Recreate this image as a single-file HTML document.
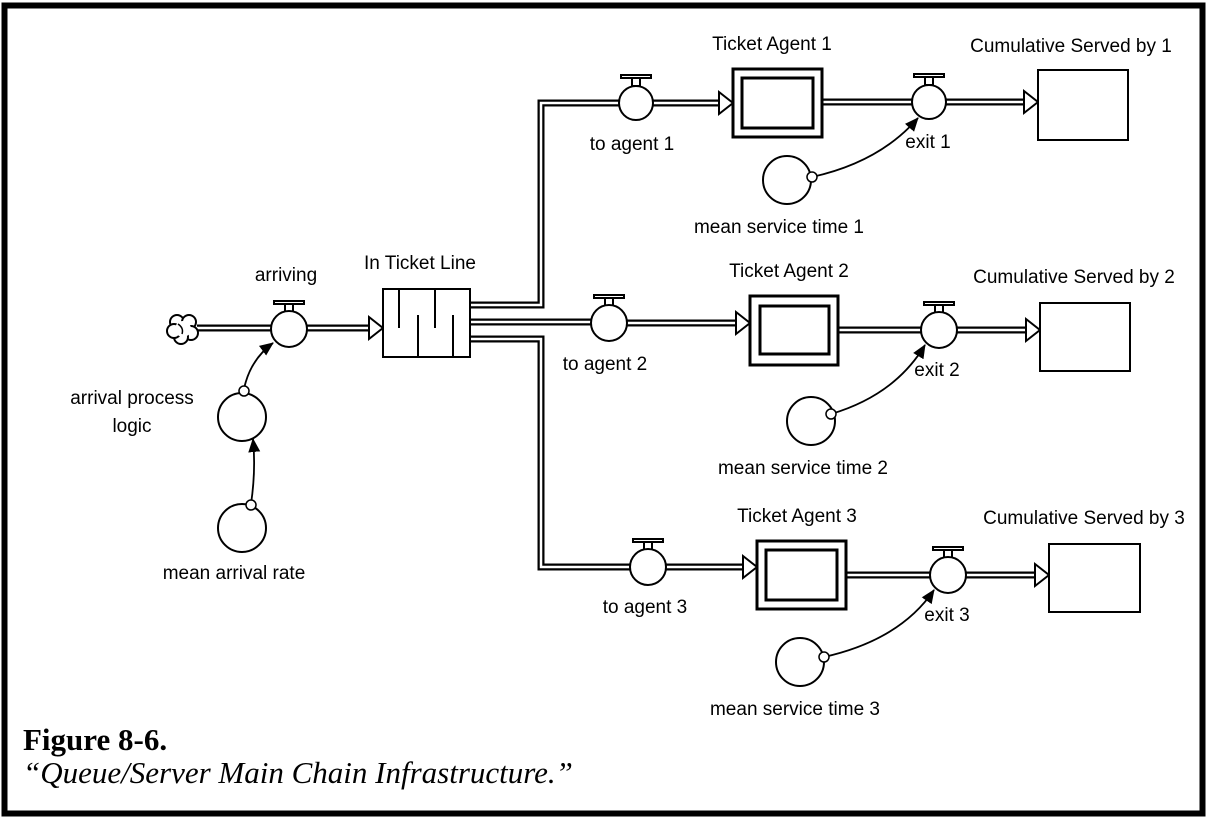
<!DOCTYPE html>
<html><head><meta charset="utf-8"><style>
html,body{margin:0;padding:0;background:#fff;}
svg{display:block;}
text{font-family:"Liberation Sans",sans-serif;font-size:19px;fill:#000;}
</style></head><body>
<svg width="1208" height="818" viewBox="0 0 1208 818" xmlns="http://www.w3.org/2000/svg">
<defs>
<marker id="ah" markerWidth="14" markerHeight="14" refX="13" refY="7" orient="auto" markerUnits="userSpaceOnUse"><path d="M0,1 L14,7 L0,13 z" fill="#000"/></marker>
</defs>
<rect x="4.5" y="5.5" width="1198" height="808" fill="#fff" stroke="#000" stroke-width="6"/>

<g fill="none" stroke="#000" stroke-width="7" stroke-linejoin="miter">
<path d="M197,328 H272"/>
<path d="M307,328 H372"/>
<path d="M470,305 H541 V103 H620"/>
<path d="M470,322 H592"/>
<path d="M470,339 H541 V567 H632"/>
<path d="M653,103 H720"/>
<path d="M626,323 H737"/>
<path d="M665,567 H744"/>
<path d="M822,102 H912"/>
<path d="M946,102 H1025"/>
<path d="M838,330 H922"/>
<path d="M956,330 H1027"/>
<path d="M846,575 H931"/>
<path d="M965,575 H1036"/>
</g>
<g fill="none" stroke="#fff" stroke-width="2.5">
<path d="M197,328 H272"/>
<path d="M307,328 H374"/>
<path d="M470,305 H541 V103 H620"/>
<path d="M470,322 H592"/>
<path d="M470,339 H541 V567 H632"/>
<path d="M653,103 H722"/>
<path d="M626,323 H739"/>
<path d="M665,567 H746"/>
<path d="M822,102 H912"/>
<path d="M946,102 H1027"/>
<path d="M838,330 H922"/>
<path d="M956,330 H1029"/>
<path d="M846,575 H931"/>
<path d="M965,575 H1038"/>
</g>
<g fill="#fff" stroke="#000" stroke-width="2">
<path d="M369,317 L383,328 L369,339 Z"/>
<path d="M719,92 L733,103 L719,114 Z"/>
<path d="M736,312 L750,323 L736,334 Z"/>
<path d="M743,556 L757,567 L743,578 Z"/>
<path d="M1024,91 L1038,102 L1024,113 Z"/>
<path d="M1026,319 L1040,330 L1026,341 Z"/>
<path d="M1035,564 L1049,575 L1035,586 Z"/>
</g>

<!-- cloud -->
<g fill="#fff" stroke="#000" stroke-width="2">
<circle cx="177" cy="322" r="7"/><circle cx="189" cy="322" r="7"/><circle cx="191" cy="333" r="7"/><circle cx="181" cy="337" r="7"/><circle cx="174" cy="331" r="7"/>
</g>
<circle cx="183" cy="329" r="8" fill="#fff"/>
<path d="M178,324 Q184,328 182,334" fill="none" stroke="#000" stroke-width="1.5"/>

<!-- stocks -->
<g fill="#fff" stroke="#000" stroke-width="2">
<rect x="383" y="289" width="87" height="68"/>
<rect x="1038" y="70" width="90" height="70"/>
<rect x="1040" y="303" width="90" height="68"/>
<rect x="1049" y="544" width="91" height="68"/>
</g>
<path d="M399,289 V328 M435,289 V328 M418,357 V315 M453,357 V315" fill="none" stroke="#000" stroke-width="2"/>
<g fill="#fff" stroke="#000" stroke-width="3">
<rect x="733" y="69" width="89" height="68"/><rect x="742" y="78" width="71" height="50"/>
<rect x="750" y="296" width="88" height="69"/><rect x="760" y="306" width="69" height="48"/>
<rect x="757" y="541" width="89" height="68"/><rect x="766" y="550" width="71" height="50"/>
</g>

<!-- valves -->
<g fill="#fff" stroke="#000" stroke-width="2">
<g transform="translate(289,329)"><rect x="-4" y="-25" width="8" height="8"/><rect x="-15" y="-28" width="30" height="3"/><circle r="18"/></g>
<g transform="translate(636,103)"><rect x="-4" y="-25" width="8" height="8"/><rect x="-15" y="-28" width="30" height="3"/><circle r="17"/></g>
<g transform="translate(609,323)"><rect x="-4" y="-25" width="8" height="8"/><rect x="-15" y="-28" width="30" height="3"/><circle r="18"/></g>
<g transform="translate(648,567)"><rect x="-4" y="-25" width="8" height="8"/><rect x="-15" y="-28" width="30" height="3"/><circle r="18"/></g>
<g transform="translate(929,102)"><rect x="-4" y="-25" width="8" height="8"/><rect x="-15" y="-28" width="30" height="3"/><circle r="17"/></g>
<g transform="translate(939,330)"><rect x="-4" y="-25" width="8" height="8"/><rect x="-15" y="-28" width="30" height="3"/><circle r="18"/></g>
<g transform="translate(948,575)"><rect x="-4" y="-25" width="8" height="8"/><rect x="-15" y="-28" width="30" height="3"/><circle r="18"/></g>
</g>

<!-- converters -->
<g fill="#fff" stroke="#000" stroke-width="2">
<circle cx="242" cy="417" r="24"/>
<circle cx="242" cy="528" r="24"/>
<circle cx="787" cy="180" r="24"/>
<circle cx="811" cy="421" r="24"/>
<circle cx="800" cy="662" r="24"/>
</g>

<g fill="none" stroke="#000" stroke-width="1.8">
<path d="M244,389 Q250,360 273,343" marker-end="url(#ah)"/>
<path d="M251,504 Q256,470 253,439" marker-end="url(#ah)"/>
<path d="M812,177 Q880,162 918,118" marker-end="url(#ah)"/>
<path d="M831,414 Q895,395 925,345" marker-end="url(#ah)"/>
<path d="M824,657 Q900,640 934,590" marker-end="url(#ah)"/>
</g>
<g fill="#fff" stroke="#000" stroke-width="1.5">
<circle cx="244" cy="391" r="5"/><circle cx="251" cy="505" r="5"/>
<circle cx="812" cy="177" r="5"/><circle cx="831" cy="414" r="5"/><circle cx="824" cy="657" r="5"/>
</g>

<text x="286" y="281" text-anchor="middle">arriving</text>
<text x="420" y="269" text-anchor="middle">In Ticket Line</text>
<text x="132" y="404" text-anchor="middle">arrival process</text>
<text x="132" y="432" text-anchor="middle">logic</text>
<text x="234" y="579" text-anchor="middle">mean arrival rate</text>
<text x="772" y="50" text-anchor="middle">Ticket Agent 1</text>
<text x="1071" y="52" text-anchor="middle">Cumulative Served by 1</text>
<text x="632" y="150" text-anchor="middle">to agent 1</text>
<text x="928" y="148" text-anchor="middle">exit 1</text>
<text x="779" y="233" text-anchor="middle">mean service time 1</text>
<text x="789" y="277" text-anchor="middle">Ticket Agent 2</text>
<text x="1074" y="283" text-anchor="middle">Cumulative Served by 2</text>
<text x="605" y="370" text-anchor="middle">to agent 2</text>
<text x="937" y="376" text-anchor="middle">exit 2</text>
<text x="803" y="474" text-anchor="middle">mean service time 2</text>
<text x="797" y="522" text-anchor="middle">Ticket Agent 3</text>
<text x="1084" y="524" text-anchor="middle">Cumulative Served by 3</text>
<text x="645" y="613" text-anchor="middle">to agent 3</text>
<text x="947" y="621" text-anchor="middle">exit 3</text>
<text x="795" y="715" text-anchor="middle">mean service time 3</text>

<text x="23" y="750" style="font-family:'Liberation Serif',serif;font-size:31px;font-weight:bold;">Figure 8-6.</text>
<text x="23" y="783" style="font-family:'Liberation Serif',serif;font-size:31px;font-style:italic;">“Queue/Server Main Chain Infrastructure.”</text>
</svg>
</body></html>
